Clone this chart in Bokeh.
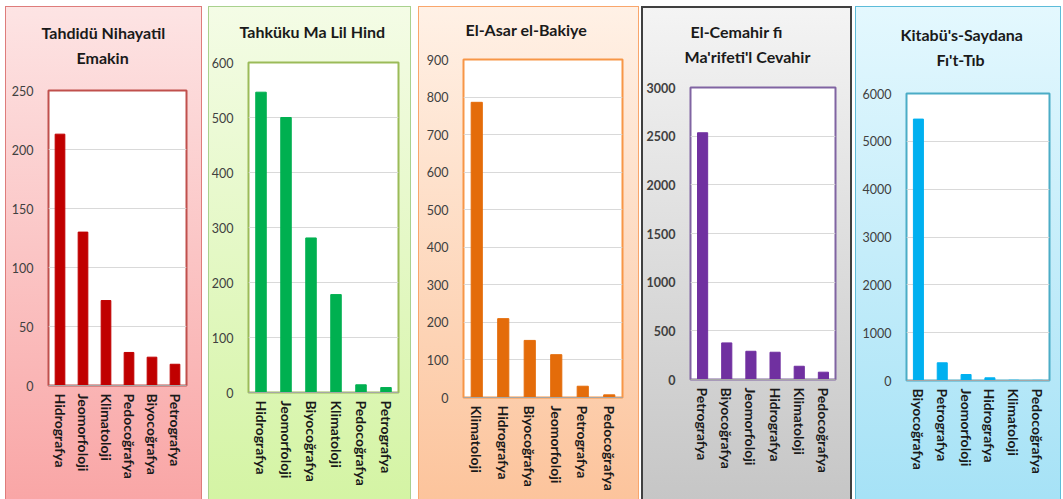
from bokeh.plotting import figure
from bokeh.models import Range1d, FactorRange, Title, SingleIntervalTicker
from bokeh.layouts import row, column
from bokeh.embed import file_html
from bokeh.resources import INLINE

titles = [["Tahdidü Nihayatil", "Emakin"], ["Tahküku Ma Lil Hind"], ["El-Asar el-Bakiye"],
          ["El-Cemahir fi", "Ma'rifeti'l Cevahir"], ["Kitabü's-Saydana", "Fı't-Tıb"]]

cats1 = ["Hidrografya", "Jeomorfoloji", "Klimatoloji", "Pedocoğrafya", "Biyocoğrafya", "Petrografya"]
vals1 = [213, 130, 72, 28, 24, 18]

cats2 = ["Hidrografya", "Jeomorfoloji", "Biyocoğrafya", "Klimatoloji", "Pedocoğrafya", "Petrografya"]
vals2 = [546, 500, 281, 178, 14, 9]

cats3 = ["Klimatoloji", "Hidrografya", "Biyocoğrafya", "Jeomorfoloji", "Petrografya", "Pedocoğrafya"]
vals3 = [786, 210, 152, 114, 30, 7]

cats4 = ["Petrografya", "Biyocoğrafya", "Jeomorfoloji", "Hidrografya", "Klimatoloji", "Pedocoğrafya"]
vals4 = [2535, 376, 290, 280, 136, 75]

cats5 = ["Biyocoğrafya", "Petrografya", "Jeomorfoloji", "Hidrografya", "Klimatoloji", "Pedocoğrafya"]
vals5 = [5465, 370, 125, 56, 5, 3]

ymax = [250, 600, 900, 3000, 6000]
ystep = [50, 100, 100, 500, 1000]

bar_colors = ["#C00000", "#00B050", "#E46C0A", "#7030A0", "#00B0F0"]
frame_colors = ["#C0504D", "#9BBB59", "#F79646", "#8064A2", "#4BACC6"]
panel_borders = ["#DE7C7B", "#A9D18E", "#F9A66C", "#404040", "#5DBCD9"]
grad_top = ["#FDE4E4", "#F4FCE6", "#FFF1E6", "#F4F4F4", "#E4F8FE"]
grad_bot = ["#F9A6A6", "#D4F4A4", "#FCC49C", "#C6C6C6", "#A6E2F6"]
border_w = [1, 1, 1, 2, 1]

# layout (pixels)
H = 493
widths = [197, 203, 221, 211, 206]
lmarg = [5, 6, 7, 2, 3]
bl = [43, 39, 45, 49, 51]
br = [16, 13, 17, 17, 12]
bt = [84, 56, 53, 81, 87]
bb = [114, 107, 102, 120, 119]
# title placement: per line (offset from frame left), spacer standoff, line standoffs
t_off = [[-7, 28], [-9], [2], [0, -6], [-6, 30]]
t_spacer = [19, 17, 16, 17, 20]
t_stand = [[4, 4], [4], [4], [4, 4], [4, 4]]
tick_bold = [False, False, False, True, False]

data = [(cats1, vals1), (cats2, vals2), (cats3, vals3), (cats4, vals4), (cats5, vals5)]

cols = []
for i, (cats, vals) in enumerate(data):
    p = figure(width=widths[i], height=H, x_range=FactorRange(*cats, range_padding=0),
               y_range=Range1d(0, ymax[i]), output_backend="svg", toolbar_location=None,
               title_location=None,
               min_border_left=bl[i], min_border_right=br[i],
               min_border_top=bt[i], min_border_bottom=bb[i])
    p.vbar(x=cats, top=vals, width=0.42, color=bar_colors[i])
    p.add_layout(Title(text=" ", text_font_size="1px", standoff=t_spacer[i]), "above")
    lines = titles[i]
    # closest to the frame is added first -> add last line first
    for j in reversed(range(len(lines))):
        p.add_layout(Title(text=lines[j], align="left", offset=t_off[i][j],
                           standoff=t_stand[i][j], text_font="Lato", text_font_size="16px",
                           text_font_style="bold", text_color="#1A1A1A"), "above")
    p.background_fill_color = "white"
    p.border_fill_alpha = 0
    p.outline_line_color = frame_colors[i]
    p.outline_line_width = 2
    p.xgrid.grid_line_color = None
    p.ygrid.grid_line_color = "#D9D9D9"
    p.ygrid.grid_line_width = 1
    p.yaxis.ticker = SingleIntervalTicker(interval=ystep[i])
    p.ygrid.ticker = SingleIntervalTicker(interval=ystep[i])
    p.yaxis.axis_line_color = None
    p.yaxis.major_tick_line_color = None
    p.yaxis.major_tick_out = 0
    p.yaxis.minor_tick_line_color = None
    p.yaxis.major_label_text_font = "Lato"
    p.yaxis.major_label_text_font_size = "12.5px"
    p.yaxis.major_label_text_color = "#404040"
    p.yaxis.major_label_text_font_style = "bold" if tick_bold[i] else "normal"
    p.yaxis.major_label_standoff = 11
    p.xaxis.axis_line_color = "#A6A6A6"
    p.xaxis.major_tick_line_color = None
    p.xaxis.major_tick_out = 0
    p.xaxis.minor_tick_line_color = None
    p.xaxis.major_label_orientation = "vertical"
    p.xaxis.major_label_text_font = "Lato"
    p.xaxis.major_label_text_font_size = "14px"
    p.xaxis.major_label_text_font_style = "bold"
    p.xaxis.major_label_text_color = "#1A1A1A"
    p.xaxis.major_label_standoff = 8
    w, c = border_w[i], panel_borders[i]
    p.styles = {
        "background": f"linear-gradient(to bottom, {grad_top[i]}, {grad_bot[i]})",
        "box-shadow": f"inset {w}px {w}px 0 0 {c}, inset -{w}px 0 0 0 {c}",
    }
    col = column(p)
    col.margin = (6, 0, 0, lmarg[i])
    cols.append(col)

layout = row(*cols)
open("out.html", "w").write(file_html(layout, INLINE))
